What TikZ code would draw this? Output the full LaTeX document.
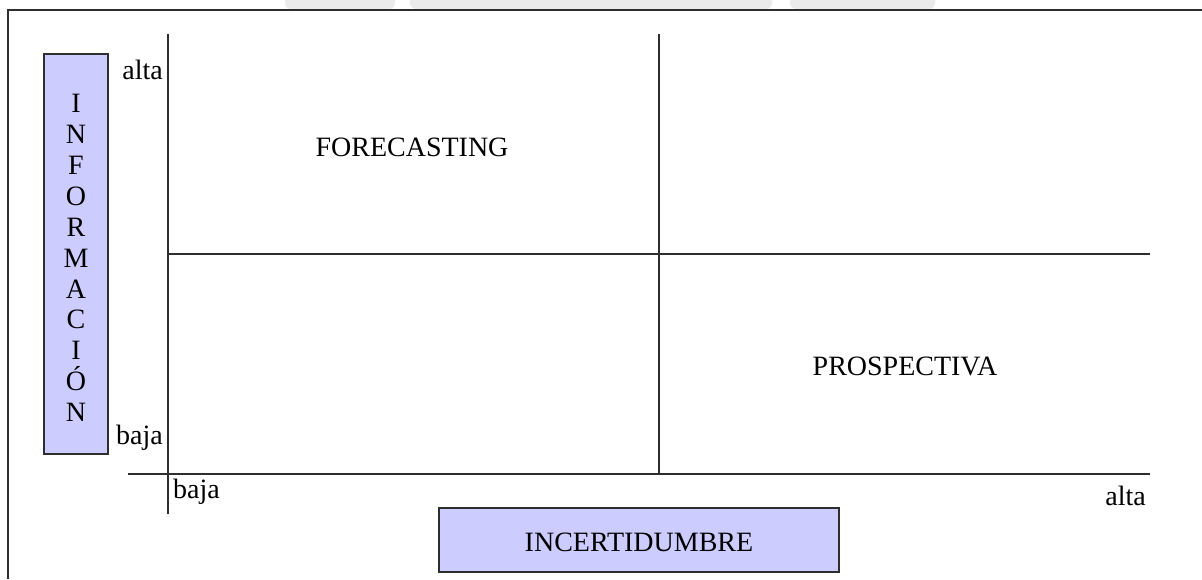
\documentclass[tikz,border=0pt]{standalone}
\usepackage{fontspec}
\setmainfont{Liberation Serif}
\definecolor{boxfill}{HTML}{CCCCFF}
\definecolor{linegray}{HTML}{2E2E2E}
\definecolor{markgray}{HTML}{ECEBEB}
\tikzset{
  axisline/.style={draw=linegray, line width=1.4pt},
  framerule/.style={draw=linegray, line width=2pt},
  labelbox/.style={draw=linegray, fill=boxfill, line width=1.3pt, inner sep=0pt},
  lbl/.style={inner sep=0pt, font=\fontsize{28}{30}\selectfont},
}
\begin{document}
\begin{tikzpicture}[x=1pt,y=-1pt]
  \useasboundingbox (0,0) rectangle (1202,579);
  \fill[white] (0,0) rectangle (1202,579);

  % faint marks above the top rule
  \fill[markgray, rounded corners=6pt] (285,-10) rectangle (395,9);
  \fill[markgray, rounded corners=6pt] (410,-10) rectangle (772,9);
  \fill[markgray, rounded corners=6pt] (790,-10) rectangle (935,9);

  % outer frame (top and left sides)
  \coordinate (frTL) at (8,10);
  \coordinate (frTR) at (1202,10);
  \coordinate (frBL) at (8,579);
  \draw[framerule] (frTR) -- (frTL) -- (frBL);

  % axes and quadrant dividers
  \coordinate (yTop) at (168,34);
  \coordinate (yBot) at (168,514);
  \coordinate (xLeft) at (128,474);
  \coordinate (xRight) at (1150,474);
  \coordinate (midTop) at (659,34);
  \coordinate (midBot) at (659,474);
  \coordinate (hLeft) at (168,254);
  \coordinate (hRight) at (1150,254);
  \draw[axisline] (yTop) -- (yBot);
  \draw[axisline] (xLeft) -- (xRight);
  \draw[axisline] (midTop) -- (midBot);
  \draw[axisline] (hLeft) -- (hRight);

  % vertical axis title
  \node[labelbox, minimum width=64pt, minimum height=400pt] (info) at (76,254) {};
  \node[lbl, align=center, font=\fontsize{28}{30.9}\selectfont] (infotxt) at (76,258)
    {I\\N\\F\\O\\R\\M\\A\\C\\I\\Ó\\N};

  % horizontal axis title
  \node[labelbox, minimum width=400pt, minimum height=64pt] (incert) at (639,540) {};
  \node[lbl] (incerttxt) at (639,542) {INCERTIDUMBRE};

  % axis end labels
  \node[lbl, anchor=east] (yAlta) at (163,70) {alta};
  \node[lbl, anchor=east] (yBaja) at (163,438) {baja};
  \node[lbl, anchor=west] (xBaja) at (173,492) {baja};
  \node[lbl, anchor=east] (xAlta) at (1146,496) {alta};

  % quadrant labels
  \node[lbl] (fore) at (412,147) {FORECASTING};
  \node[lbl] (prosp) at (905,366) {PROSPECTIVA};
\end{tikzpicture}
\end{document}
